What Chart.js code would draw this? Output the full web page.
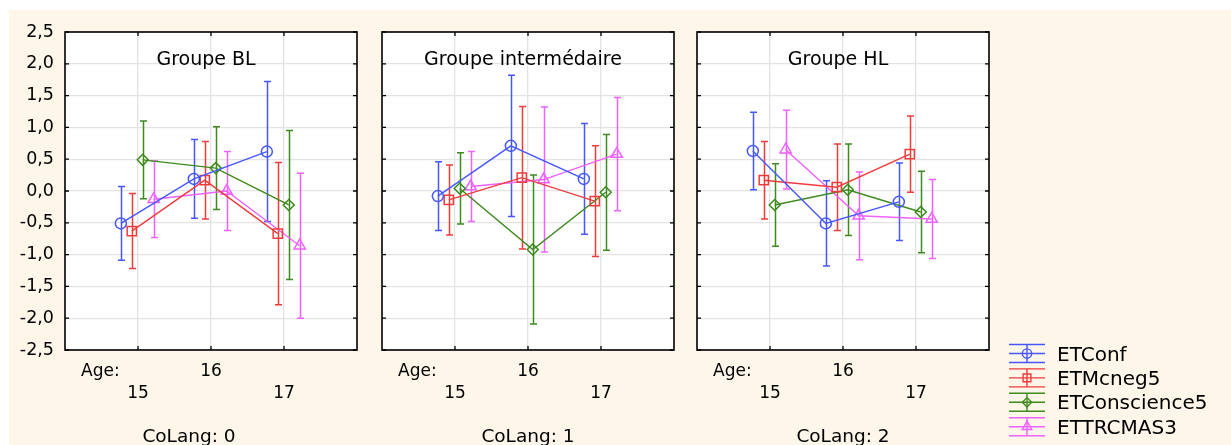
<!DOCTYPE html>
<html lang="fr">
<head>
<meta charset="UTF-8">
<title>Scores ET par âge et groupe</title>
<script src="https://cdn.jsdelivr.net/npm/chart.js"></script>
<style>
  body { margin: 0; background: #fff; }
  #wrap { position: relative; width: 1231px; height: 445px; overflow: hidden; }
  #paper { position: absolute; left: 9px; top: 10px; right: 0; bottom: 0; background: #fdf6e9; }
  canvas { position: absolute; top: 0; }
</style>
</head>
<body>
<div id="wrap">
  <div id="paper"></div>
  <canvas id="panel0" width="360" height="445" style="left:5px"></canvas>
  <canvas id="panel1" width="360" height="445" style="left:322px"></canvas>
  <canvas id="panel2" width="594" height="445" style="left:637px"></canvas>
</div>

<script>
  // Categories
  const ages = [15, 16, 17];
  const seriesNames = ['ETConf', 'ETMcneg5', 'ETConscience5', 'ETTRCMAS3'];
  const groupTitles = ['Groupe BL', 'Groupe intermédaire', 'Groupe HL'];
  const coLangLevels = [0, 1, 2];

  // Means per series (rows) and age (columns), one table per CoLang group
  const meansBL  = [[-0.51, 0.19, 0.62], [-0.63, 0.17, -0.67], [0.49, 0.36, -0.22], [-0.13, 0.00, -0.86]];
  const meansInt = [[-0.08, 0.71, 0.19], [-0.14, 0.21, -0.16], [0.04, -0.92, -0.02], [0.07, 0.18, 0.58]];
  const meansHL  = [[0.63, -0.51, -0.17], [0.17, 0.06, 0.58], [-0.22, 0.02, -0.33], [0.65, -0.39, -0.44]];

  // Half-width of the confidence interval for each mean
  const errBL  = [[0.58, 0.62, 1.10], [0.59, 0.61, 1.12], [0.61, 0.65, 1.17], [0.60, 0.62, 1.14]];
  const errInt = [[0.54, 1.11, 0.87], [0.55, 1.12, 0.87], [0.56, 1.17, 0.91], [0.55, 1.14, 0.89]];
  const errHL  = [[0.61, 0.67, 0.61], [0.61, 0.68, 0.60], [0.65, 0.72, 0.64], [0.62, 0.69, 0.62]];

  const groupMeans = [meansBL, meansInt, meansHL];
  const groupErrs = [errBL, errInt, errHL];

  // Styling
  const colors = ['#4657ff', '#ee3c3c', '#3d8a1d', '#ee62ff'];
  const pointStyles = ['circle', 'rect', 'rectRot', 'triangle'];
  const pointSizes = [5.5, 6.5, 5.5, 6.5];
  const dodge = [-0.235, -0.085, 0.065, 0.215];
  const FONT = 'DejaVu Sans';

  Chart.defaults.font.family = FONT;
  Chart.defaults.color = '#000';

  function drawMarker(ctx, style, r, x, y) {
    if (Chart.helpers && Chart.helpers.drawPoint) {
      Chart.helpers.drawPoint(ctx, { pointStyle: style, radius: r, rotation: 0, borderWidth: 1.3 }, x, y);
    } else {
      ctx.beginPath(); ctx.arc(x, y, r, 0, Math.PI * 2); ctx.stroke();
    }
  }

  const panelDecor = {
    id: 'panelDecor',
    beforeDraw(chart) {
      const a = chart.chartArea, ctx = chart.ctx;
      ctx.save();
      ctx.fillStyle = '#fff';
      ctx.fillRect(a.left, a.top, a.right - a.left, a.bottom - a.top);
      ctx.restore();
    },
    beforeDatasetsDraw(chart) {
      // confidence interval whiskers
      const ctx = chart.ctx, ys = chart.scales.y;
      ctx.save();
      ctx.lineWidth = 1.5;
      chart.data.datasets.forEach((ds, i) => {
        ctx.strokeStyle = ds.borderColor;
        chart.getDatasetMeta(i).data.forEach((pt, k) => {
          const v = ds.data[k].y, e = ds.err[k];
          const yHi = ys.getPixelForValue(v + e), yLo = ys.getPixelForValue(v - e);
          const x = Math.round(pt.x) + 0.5;
          ctx.beginPath();
          ctx.moveTo(x, yHi); ctx.lineTo(x, yLo);
          ctx.moveTo(x - 3.5, yHi); ctx.lineTo(x + 3.5, yHi);
          ctx.moveTo(x - 3.5, yLo); ctx.lineTo(x + 3.5, yLo);
          ctx.stroke();
        });
      });
      ctx.restore();
    },
    afterDraw(chart, args, opts) {
      const a = chart.chartArea, ctx = chart.ctx;
      const xs = chart.scales.x, ys = chart.scales.y;
      ctx.save();
      // frame and inner tick marks
      ctx.strokeStyle = '#000';
      ctx.lineWidth = 1.6;
      ctx.strokeRect(a.left, a.top, a.right - a.left, a.bottom - a.top);
      ctx.lineWidth = 1.3;
      ctx.beginPath();
      ys.ticks.forEach(t => {
        const y = ys.getPixelForValue(t.value);
        ctx.moveTo(a.left, y); ctx.lineTo(a.left + 4, y);
        ctx.moveTo(a.right, y); ctx.lineTo(a.right - 4, y);
      });
      xs.ticks.forEach(t => {
        const x = xs.getPixelForValue(t.value);
        ctx.moveTo(x, a.top); ctx.lineTo(x, a.top + 4);
        ctx.moveTo(x, a.bottom); ctx.lineTo(x, a.bottom - 4);
      });
      ctx.stroke();

      // texts
      ctx.fillStyle = '#000';
      ctx.textBaseline = 'alphabetic';
      ctx.textAlign = 'center';
      ctx.font = '19px "' + FONT + '"';
      ctx.fillText(opts.title, (a.left + a.right) / 2 - 5, 65);
      ctx.font = '18.5px "' + FONT + '"';
      ctx.fillText('CoLang: ' + opts.level, (a.left + a.right) / 2 + opts.footShift, 442);
      ctx.textAlign = 'left';
      ctx.textBaseline = 'middle';
      ctx.font = '17px "' + FONT + '"';
      ctx.fillText('Age:', a.left + 16, 372);

      // legend
      if (opts.legend) {
        const lx = chart.width - 222, cx = lx + 18;
        chart.data.datasets.forEach((ds, i) => {
          const y = 353.5 + i * 24.4;
          ctx.strokeStyle = ds.borderColor;
          ctx.lineWidth = 1.4;
          ctx.beginPath();
          [-9, 0, 9].forEach(d => { ctx.moveTo(lx, y + d); ctx.lineTo(lx + 36, y + d); });
          ctx.moveTo(cx, y - 9); ctx.lineTo(cx, y + 9);
          ctx.stroke();
          ctx.fillStyle = 'rgba(0,0,0,0)';
          drawMarker(ctx, ds.pointStyle, ds.pointRadius * 0.85, cx, y);
          ctx.fillStyle = '#000';
          ctx.textAlign = 'left';
          ctx.textBaseline = 'alphabetic';
          ctx.font = '20px "' + FONT + '"';
          ctx.fillText(ds.label, lx + 48, y + 7);
        });
      }
      ctx.restore();
    }
  };

  function makePanel(g, rightPad, footShift) {
    const datasets = seriesNames.map((name, s) => ({
      label: name,
      data: ages.map((age, k) => ({ x: age + dodge[s], y: groupMeans[g][s][k] })),
      err: groupErrs[g][s],
      showLine: true,
      tension: 0,
      borderColor: colors[s],
      borderWidth: 1.4,
      pointStyle: pointStyles[s],
      pointRadius: pointSizes[s],
      pointBorderWidth: 1.5,
      pointBackgroundColor: 'rgba(0,0,0,0)',
      pointBorderColor: colors[s]
    }));

    return new Chart(document.getElementById('panel' + g), {
      type: 'scatter',
      data: { datasets },
      plugins: [panelDecor],
      options: {
        responsive: false,
        animation: false,
        events: [],
        layout: { padding: { top: 32, left: 0, right: rightPad, bottom: 0 } },
        plugins: {
          legend: { display: false },
          tooltip: { enabled: false },
          panelDecor: { title: groupTitles[g], level: coLangLevels[g], footShift, legend: g === 2 }
        },
        scales: {
          x: {
            type: 'linear',
            min: 14, max: 18,
            afterBuildTicks: sc => { sc.ticks = ages.map(v => ({ value: v })); },
            afterFit: sc => { sc.height = 95; },
            grid: { color: '#e3e3e3', lineWidth: 1.3, drawTicks: false },
            border: { display: false },
            ticks: {
              padding: 10,
              autoSkip: false,
              maxRotation: 0,
              font: { size: 17, lineHeight: 1.32 },
              callback: v => (v === 16 ? String(v) : ['', String(v)])
            }
          },
          y: {
            min: -2.5, max: 2.5,
            afterFit: sc => { sc.width = 60; },
            grid: { color: '#e3e3e3', lineWidth: 1.3, drawTicks: false },
            border: { display: false },
            ticks: {
              display: g === 0,
              stepSize: 0.5,
              padding: 11,
              font: { size: 17.5 },
              callback: v => v.toFixed(1).replace('.', ',')
            }
          }
        }
      }
    });
  }

  makePanel(0, 8, -22);
  makePanel(1, 8, 0);
  makePanel(2, 242, 0);
</script>
</body>
</html>
